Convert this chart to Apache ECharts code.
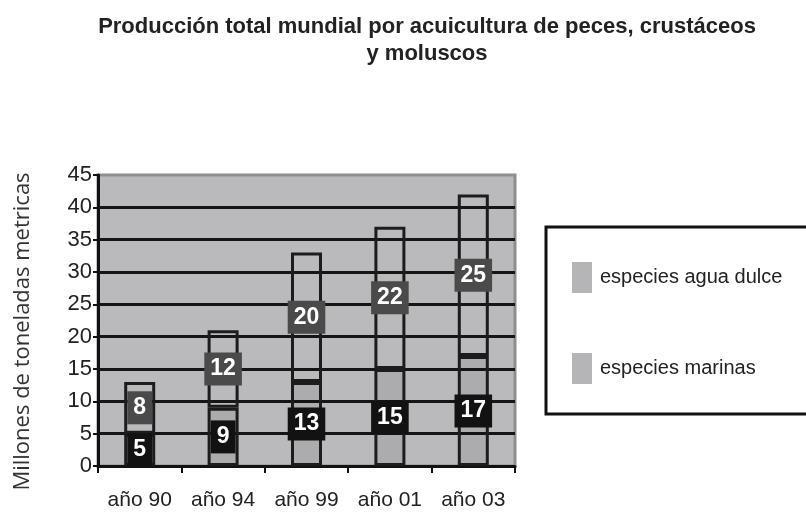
<!DOCTYPE html>
<html>
<head>
<meta charset="utf-8">
<script src="https://cdn.jsdelivr.net/npm/echarts@6/dist/echarts.min.js"></script>
<style>html,body{margin:0;padding:0;background:#fff}#c{width:806px;height:515px}</style>
</head>
<body>
<div id="c"></div>
<script>
var categories = ['año 90', 'año 94', 'año 99', 'año 01', 'año 03'];
var marinas = [5, 9, 13, 15, 17];
var aguaDulce = [8, 12, 20, 22, 25];
var yMin = 0, yMax = 45, yStep = 5;
var titleText = 'Producción total mundial por acuicultura de peces, crustáceos\ny moluscos';
var yName = 'Millones de toneladas metricas';
var nameDulce = 'especies agua dulce';
var nameMarinas = 'especies marinas';

var FONT = '"Liberation Sans", Arial, sans-serif';
var nLines = (yMax - yMin) / yStep + 1;
var splitColors = [];
for (var i = 0; i < nLines; i++) splitColors.push(i === nLines - 1 ? 'rgba(0,0,0,0)' : '#151515');

var chart = echarts.init(document.getElementById('c'), null, {renderer: 'canvas'});
function labelCfg(bg) {
  return {
    show: true, position: 'inside', color: '#fff', fontFamily: FONT, fontWeight: 'bold',
    fontSize: 23, lineHeight: 22, backgroundColor: bg, padding: [6, 6, 5, 6]
  };
}
chart.setOption({
  animation: false,
  title: {
    text: titleText, left: 422, top: 8, textAlign: 'center',
    textStyle: {fontFamily: FONT, fontWeight: 'bold', fontSize: 22, lineHeight: 27, color: '#222'}
  },
  grid: {
    left: 98, right: 291, top: 175, bottom: 49, show: true,
    backgroundColor: '#bababd', borderColor: '#8e8e90', borderWidth: 3
  },
  legend: {
    orient: 'vertical', left: 546, top: 227, icon: 'rect',
    padding: [35, 80, 30, 26], itemWidth: 20, itemHeight: 31, itemGap: 60,
    borderColor: '#111', borderWidth: 3,
    data: [
      {name: nameDulce, itemStyle: {color: '#b5b5b8', borderWidth: 0}},
      {name: nameMarinas, itemStyle: {color: '#b5b5b8', borderWidth: 0}}
    ],
    textStyle: {fontFamily: FONT, fontSize: 20, color: '#222', padding: [0, 0, 0, 3]}
  },
  xAxis: {
    type: 'category', data: categories, boundaryGap: true,
    axisLine: {lineStyle: {color: '#111', width: 3}},
    axisTick: {show: true, interval: 0, length: 7, lineStyle: {color: '#111', width: 2}},
    axisLabel: {interval: 0, fontFamily: FONT, fontSize: 21, color: '#222', margin: 24}
  },
  yAxis: {
    type: 'value', min: yMin, max: yMax, interval: yStep,
    name: yName, nameLocation: 'middle', nameRotate: 90, nameGap: 64,
    nameTextStyle: {fontFamily: '"Open Sans", sans-serif', fontSize: 22, color: '#333', padding: [0, 22, 0, 0]},
    axisLine: {show: true, lineStyle: {color: '#111', width: 3}},
    axisTick: {show: true, length: 5, lineStyle: {color: '#111', width: 2}},
    axisLabel: {fontFamily: FONT, fontSize: 22, color: '#222', margin: 6},
    splitLine: {show: true, lineStyle: {color: splitColors, width: 3}}
  },
  series: [
    {name: nameMarinas, type: 'bar', stack: 'tot', data: marinas, barWidth: 31,
     itemStyle: {color: 'rgba(0,0,0,0.07)', borderColor: '#1c1c1c', borderWidth: 3},
     label: labelCfg('#121212')},
    {name: nameDulce, type: 'bar', stack: 'tot', data: aguaDulce, barWidth: 31,
     itemStyle: {color: 'rgba(0,0,0,0)', borderColor: '#1c1c1c', borderWidth: 3},
     label: labelCfg('#4a4a4a')}
  ]
});
</script>
</body>
</html>
